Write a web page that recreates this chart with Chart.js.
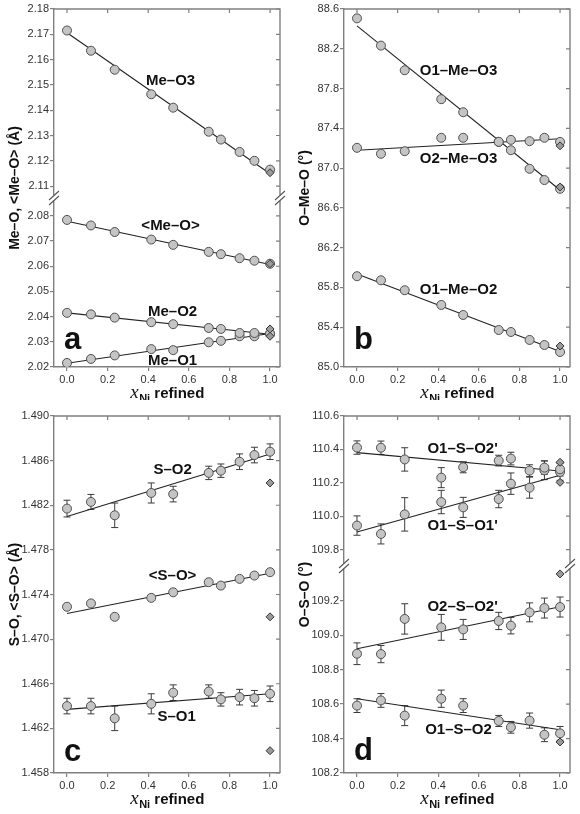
<!DOCTYPE html>
<html>
<head>
<meta charset="utf-8">
<script src="https://cdn.jsdelivr.net/npm/chart.js@4.4.1/dist/chart.umd.min.js"></script>
<style>
  body { margin: 0; background: #fff; }
  .panel { position: absolute; width: 290px; }
</style>
</head>
<body>
<div class="panel" style="left:0;top:0;height:400px"><canvas id="chartA"></canvas></div>
<div class="panel" style="left:290px;top:0;height:400px"><canvas id="chartB"></canvas></div>
<div class="panel" style="left:0;top:400px;height:414px"><canvas id="chartC"></canvas></div>
<div class="panel" style="left:290px;top:400px;height:414px"><canvas id="chartD"></canvas></div>
<script>
// composition x(Ni) of the refined samples
const xNi = [0, 0.118, 0.235, 0.415, 0.523, 0.698, 0.758, 0.850, 0.923, 1.0];
const xFit = [0, 1];
const xTicks = [0, 0.2, 0.4, 0.6, 0.8, 1.0];

// a: Me-O distances (A)
const meO3 = [2.1715, 2.1635, 2.1560, 2.1463, 2.1410, 2.1315, 2.1284, 2.1235, 2.1200, 2.1165];
const meOavg = [2.0784, 2.0762, 2.0736, 2.0706, 2.0685, 2.0657, 2.0648, 2.0632, 2.0622, 2.0610];
const meO2 = [2.0415, 2.0409, 2.0396, 2.0378, 2.0370, 2.0355, 2.0351, 2.0335, 2.0335, 2.0332];
const meO1 = [2.0216, 2.0232, 2.0246, 2.0271, 2.0267, 2.0298, 2.0304, 2.0322, 2.0322, 2.0332];
const meO3Fit = [2.1706, 2.1149];
const meOavgFit = [2.0779, 2.0607];
const meO2Fit = [2.0415, 2.0330];
const meO1Fit = [2.0215, 2.0333];
const refA = [2.1153, 2.0610, 2.0351, 2.0322]; // Me-O3, <Me-O>, Me-O2, Me-O1 at x = 1
const ticksAUp = [2.11, 2.12, 2.13, 2.14, 2.15, 2.16, 2.17, 2.18];
const ticksALow = [2.02, 2.03, 2.04, 2.05, 2.06, 2.07, 2.08];

// b: O-Me-O angles (deg)
const o1meo3 = [88.506, 88.232, 87.984, 87.693, 87.562, 87.264, 87.180, 86.993, 86.880, 86.792];
const o2meo3 = [87.204, 87.144, 87.170, 87.305, 87.305, 87.264, 87.284, 87.271, 87.305, 87.264];
const o1meo2 = [85.913, 85.872, 85.772, 85.624, 85.523, 85.372, 85.352, 85.272, 85.221, 85.151];
const o1meo3Fit = [88.43, 86.78];
const o2meo3Fit = [87.18, 87.295];
const o1meo2Fit = [85.935, 85.155];
const refB = [86.81, 87.224, 85.211];
const ticksB = [85.0, 85.4, 85.8, 86.2, 86.6, 87.0, 87.4, 87.8, 88.2, 88.6];

// c: S-O distances (A)
const sO2 = [1.4817, 1.4823, 1.4811, 1.4831, 1.4830, 1.4849, 1.4851, 1.4859, 1.4865, 1.4868];
const sO2Err = [0.00075, 0.00067, 0.0011, 0.0009, 0.0007, 0.0006, 0.0006, 0.0007, 0.0007, 0.0007];
const sOavg = [1.4729, 1.4732, 1.4720, 1.4737, 1.4742, 1.4751, 1.4748, 1.4754, 1.4757, 1.4760];
const sO1 = [1.4640, 1.4640, 1.4629, 1.4642, 1.4652, 1.4653, 1.4646, 1.4648, 1.4647, 1.4651];
const sO1Err = [0.0007, 0.0007, 0.0011, 0.0009, 0.0007, 0.0006, 0.0006, 0.0007, 0.0007, 0.0007];
const sO2Fit = [1.4810, 1.4866];
const sOavgFit = [1.4723, 1.4759];
const sO1Fit = [1.4637, 1.4651];
const refC = [1.4840, 1.4720, 1.4600];
const ticksC = [1.458, 1.462, 1.466, 1.470, 1.474, 1.478, 1.482, 1.486, 1.490];

// d: O-S-O angles (deg)
const o1so2p = [110.411, 110.410, 110.340, 110.231, 110.293, 110.333, 110.345, 110.273, 110.291, 110.281];
const o1so2pErr = [0.04, 0.04, 0.07, 0.06, 0.033, 0.032, 0.038, 0.035, 0.04, 0.04];
const o1so1p = [109.944, 109.894, 110.011, 110.085, 110.053, 110.103, 110.195, 110.171, 110.275, 110.265];
const o1so1pErr = [0.058, 0.06, 0.1, 0.07, 0.06, 0.052, 0.064, 0.063, 0.056, 0.05];
const o2so2p = [108.892, 108.890, 109.094, 109.045, 109.033, 109.082, 109.055, 109.132, 109.157, 109.163];
const o2so2pErr = [0.063, 0.05, 0.088, 0.075, 0.058, 0.05, 0.048, 0.055, 0.058, 0.058];
const o1so2 = [108.591, 108.621, 108.533, 108.631, 108.591, 108.502, 108.465, 108.504, 108.422, 108.430];
const o1so2Err = [0.04, 0.04, 0.058, 0.05, 0.04, 0.032, 0.034, 0.044, 0.04, 0.04];
const o1so2pFit = [110.381, 110.271];
const o1so1pFit = [109.905, 110.245];
const o2so2pFit = [108.921, 109.165];
const o1so2Fit = [108.631, 108.451];
const refDUp = [110.323, 110.203];
const refDLow = [109.355, 108.38];
const ticksDUp = [109.8, 110.0, 110.2, 110.4, 110.6];
const ticksDLow = [108.2, 108.4, 108.6, 108.8, 109.0, 109.2];

const FONT = '"Liberation Sans", Arial, sans-serif';
const AXIS = '#808080';
const INK = '#222';

function pts(xs, ys) {
    return xs.map((x, i) => ({ x: x, y: ys[i] }));
}
function circles(ys, axis, errs) {
    return {
        data: pts(xNi, ys), yAxisID: axis, errors: errs, order: 1,
        pointStyle: 'circle', pointRadius: 4.5,
        backgroundColor: '#c4c4c4', borderColor: '#505050', borderWidth: 1,
    };
}
function fit(ys, axis) {
    return {
        data: pts(xFit, ys), yAxisID: axis, order: 3, showLine: true,
        pointRadius: 0, borderColor: INK, borderWidth: 1.1,
    };
}
function refs(ys, axis) {
    return {
        data: ys.map(y => ({ x: 1.0, y: y })), yAxisID: axis, order: 0,
        pointStyle: 'rectRot', pointRadius: 4,
        backgroundColor: '#9a9a9a', borderColor: '#333', borderWidth: 1,
    };
}
function yScale(tickList, min, max, digits, extra) {
    return Object.assign({
        type: 'linear', position: 'left', min: min, max: max,
        border: { color: AXIS, width: 1.4 },
        grid: { drawOnChartArea: false, drawTicks: true, tickLength: 4, color: AXIS, lineWidth: 1.2 },
        ticks: { font: { family: FONT, size: 11 }, color: '#333', padding: 1, autoSkip: false,
                 callback: v => v.toFixed(digits) },
        afterBuildTicks: s => { s.ticks = tickList.map(v => ({ value: v })); },
        afterFit: s => { s.width = 54; },
    }, extra || {});
}
function xScale(h) {
    return {
        type: 'linear', position: 'bottom', min: -0.064, max: 1.049,
        border: { color: AXIS, width: 1.4 },
        grid: { drawOnChartArea: false, drawTicks: true, tickLength: 4, color: AXIS, lineWidth: 1.2 },
        ticks: { font: { family: FONT, size: 11 }, color: '#333', padding: 2, maxRotation: 0, autoSkip: false,
                 callback: v => v.toFixed(1) },
        afterBuildTicks: s => { s.ticks = xTicks.map(v => ({ value: v })); },
        afterFit: s => { s.height = h; },
    };
}

// error bars, frame, break marks and all the text of a panel
const decor = {
    id: 'decor',
    beforeDatasetsDraw(chart) {
        const ctx = chart.ctx;
        const xs = chart.scales.x;
        ctx.save();
        ctx.strokeStyle = '#3a3a3a';
        ctx.lineWidth = 1;
        chart.data.datasets.forEach(ds => {
            if (!ds.errors) return;
            const ys = chart.scales[ds.yAxisID];
            ds.data.forEach((p, i) => {
                const px = xs.getPixelForValue(p.x);
                const y1 = ys.getPixelForValue(p.y + ds.errors[i]);
                const y2 = ys.getPixelForValue(p.y - ds.errors[i]);
                ctx.beginPath();
                ctx.moveTo(px, y1); ctx.lineTo(px, y2);
                ctx.moveTo(px - 3.5, y1); ctx.lineTo(px + 3.5, y1);
                ctx.moveTo(px - 3.5, y2); ctx.lineTo(px + 3.5, y2);
                ctx.stroke();
            });
        });
        ctx.restore();
    },
    afterDraw(chart, args, o) {
        const ctx = chart.ctx;
        const a = chart.chartArea;
        const xs = chart.scales.x;
        ctx.save();
        ctx.strokeStyle = AXIS;
        ctx.lineWidth = 1.4;
        ctx.beginPath();
        ctx.moveTo(a.left, a.top); ctx.lineTo(a.right, a.top); ctx.lineTo(a.right, a.bottom);
        ctx.stroke();
        ctx.lineWidth = 1.2;
        ctx.beginPath();
        xTicks.forEach(v => {
            const px = xs.getPixelForValue(v);
            ctx.moveTo(px, a.top); ctx.lineTo(px, a.top + 4);
        });
        o.yAxes.forEach(id => {
            const s = chart.scales[id];
            s.ticks.forEach(t => {
                const py = s.getPixelForValue(t.value);
                ctx.moveTo(a.right - 4, py); ctx.lineTo(a.right, py);
            });
        });
        ctx.stroke();

        if (o.breakAxis) {
            const by = chart.scales[o.breakAxis].top;
            ctx.strokeStyle = '#555';
            ctx.lineWidth = 1.1;
            [a.left, a.right].forEach(bx => {
                ctx.fillStyle = '#fff';
                ctx.fillRect(bx - 2, by - 2.5, 4, 5);
                ctx.beginPath();
                [-2.5, 2.5].forEach(d => {
                    ctx.moveTo(bx - 5, by + d + 4.5);
                    ctx.lineTo(bx + 5, by + d - 4.5);
                });
                ctx.stroke();
            });
        }

        ctx.fillStyle = '#111';
        ctx.textAlign = 'center';
        ctx.textBaseline = 'middle';
        ctx.font = 'bold 15px ' + FONT;
        o.labels.forEach(l => {
            ctx.fillText(l.text, xs.getPixelForValue(l.x), chart.scales[l.axis].getPixelForValue(l.y));
        });

        ctx.textAlign = 'left';
        ctx.textBaseline = 'alphabetic';
        ctx.font = 'bold 31px ' + FONT;
        ctx.fillText(o.letter, a.left + 10, a.bottom - o.letterLift);

        // y title
        ctx.save();
        ctx.translate(15, (a.top + a.bottom) / 2);
        ctx.rotate(-Math.PI / 2);
        ctx.textAlign = 'center';
        ctx.textBaseline = 'middle';
        ctx.font = 'bold 14px ' + FONT;
        ctx.fillText(o.yTitle, 0, 0);
        ctx.restore();

        // x title: italic x with subscript Ni
        const fx = 'italic 19px "Liberation Serif", "Times New Roman", serif';
        const fs = 'bold 11px ' + FONT;
        const fr = 'bold 15px ' + FONT;
        ctx.font = fx; const w1 = ctx.measureText('x').width;
        ctx.font = fs; const w2 = ctx.measureText('Ni').width;
        ctx.font = fr; const w3 = ctx.measureText(' refined').width;
        let cx = (a.left + a.right) / 2 - (w1 + w2 + w3) / 2;
        const by = a.bottom + o.titleDrop;
        ctx.font = fx; ctx.fillText('x', cx, by); cx += w1 + 0.5;
        ctx.font = fs; ctx.fillText('Ni', cx, by + 4); cx += w2;
        ctx.font = fr; ctx.fillText(' refined', cx, by);
        ctx.restore();
    }
};

function makeChart(id, datasets, scales, decorOpts, pad) {
    return new Chart(document.getElementById(id), {
        type: 'scatter',
        data: { datasets: datasets },
        options: {
            responsive: true,
            maintainAspectRatio: false,
            animation: false,
            layout: { padding: pad },
            plugins: { legend: { display: false }, tooltip: { enabled: false }, decor: decorOpts },
            scales: scales,
        },
        plugins: [decor],
    });
}

// panel a (broken axis: y low, y2 high)
makeChart('chartA', [
    fit(meO3Fit, 'y2'), fit(meOavgFit, 'y'), fit(meO2Fit, 'y'), fit(meO1Fit, 'y'),
    circles(meO3, 'y2'), circles(meOavg, 'y'), circles(meO2, 'y'), circles(meO1, 'y'),
    refs(refA.slice(0, 1), 'y2'), refs(refA.slice(1), 'y'),
], {
    x: xScale(33),
    y: yScale(ticksALow, 2.02, 2.0871, 2, { stack: 'a', stackWeight: 169 }),
    y2: yScale(ticksAUp, 2.1053, 2.18, 2, { stack: 'a', stackWeight: 189 }),
}, {
    yAxes: ['y', 'y2'], breakAxis: 'y', letter: 'a', letterLift: 18, titleDrop: 31,
    yTitle: 'Me\u2013O, <Me\u2013O> (\u00c5)',
    labels: [
        { text: 'Me\u2013O3', x: 0.51, y: 2.1515, axis: 'y2' },
        { text: '<Me\u2013O>', x: 0.51, y: 2.0761, axis: 'y' },
        { text: 'Me\u2013O2', x: 0.52, y: 2.0420, axis: 'y' },
        { text: 'Me\u2013O1', x: 0.52, y: 2.0225, axis: 'y' },
    ],
}, { left: 0, right: 10, top: 9, bottom: 0 });

// panel b
makeChart('chartB', [
    fit(o1meo3Fit, 'y'), fit(o2meo3Fit, 'y'), fit(o1meo2Fit, 'y'),
    circles(o1meo3, 'y'), circles(o2meo3, 'y'), circles(o1meo2, 'y'),
    refs(refB, 'y'),
], {
    x: xScale(33),
    y: yScale(ticksB, 85.0, 88.6, 1),
}, {
    yAxes: ['y'], letter: 'b', letterLift: 18, titleDrop: 31,
    yTitle: 'O\u2013Me\u2013O (\u00b0)',
    labels: [
        { text: 'O1\u2013Me\u2013O3', x: 0.50, y: 87.976, axis: 'y' },
        { text: 'O2\u2013Me\u2013O3', x: 0.50, y: 87.094, axis: 'y' },
        { text: 'O1\u2013Me\u2013O2', x: 0.50, y: 85.78, axis: 'y' },
    ],
}, { left: 0, right: 10, top: 9, bottom: 0 });

// panel c
makeChart('chartC', [
    fit(sO2Fit, 'y'), fit(sOavgFit, 'y'), fit(sO1Fit, 'y'),
    circles(sO2, 'y', sO2Err), circles(sOavg, 'y'), circles(sO1, 'y', sO1Err),
    refs(refC, 'y'),
], {
    x: xScale(41),
    y: yScale(ticksC, 1.458, 1.490, 3),
}, {
    yAxes: ['y'], letter: 'c', letterLift: 12, titleDrop: 31,
    yTitle: 'S\u2013O, <S\u2013O> (\u00c5)',
    labels: [
        { text: 'S\u2013O2', x: 0.52, y: 1.48516, axis: 'y' },
        { text: '<S\u2013O>', x: 0.52, y: 1.47568, axis: 'y' },
        { text: 'S\u2013O1', x: 0.54, y: 1.46305, axis: 'y' },
    ],
}, { left: 0, right: 10, top: 16, bottom: 0 });

// panel d (broken axis)
makeChart('chartD', [
    fit(o1so2pFit, 'y2'), fit(o1so1pFit, 'y2'), fit(o2so2pFit, 'y'), fit(o1so2Fit, 'y'),
    circles(o1so2p, 'y2', o1so2pErr), circles(o1so1p, 'y2', o1so1pErr),
    circles(o2so2p, 'y', o2so2pErr), circles(o1so2, 'y', o1so2Err),
    refs(refDUp, 'y2'), refs(refDLow, 'y'),
], {
    x: xScale(41),
    y: yScale(ticksDLow, 108.2, 109.401, 1, { stack: 'd', stackWeight: 207 }),
    y2: yScale(ticksDUp, 109.702, 110.6, 1, { stack: 'd', stackWeight: 150 }),
}, {
    yAxes: ['y', 'y2'], breakAxis: 'y', letter: 'd', letterLift: 13, titleDrop: 31,
    yTitle: 'O\u2013S\u2013O (\u00b0)',
    labels: [
        { text: 'O1\u2013S\u2013O2\'', x: 0.52, y: 110.405, axis: 'y2' },
        { text: 'O1\u2013S\u2013O1\'', x: 0.52, y: 109.94, axis: 'y2' },
        { text: 'O2\u2013S\u2013O2\'', x: 0.52, y: 109.163, axis: 'y' },
        { text: 'O1\u2013S\u2013O2', x: 0.50, y: 108.451, axis: 'y' },
    ],
}, { left: 0, right: 10, top: 16, bottom: 0 });
</script>
</body>
</html>
